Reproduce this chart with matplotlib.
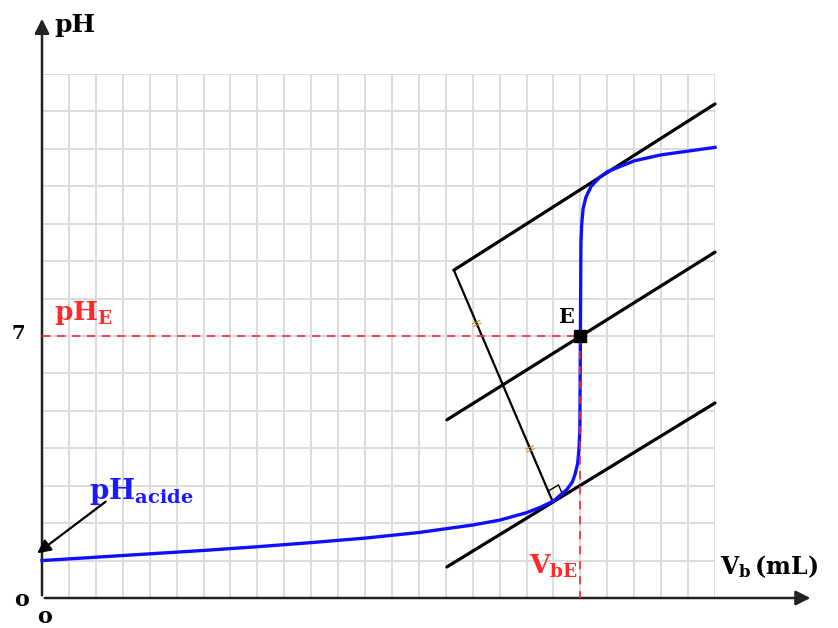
import matplotlib
matplotlib.use('Agg')
from matplotlib import pyplot as plt
import numpy as np

plt.rcParams['font.family'] = ['DejaVu Serif']
plt.rcParams['mathtext.fontset'] = 'dejavuserif'

# titration curve (V_b in mL, pH)
vb = [0, 2, 4, 6, 8, 10, 12, 14, 15, 16, 17, 18, 18.5, 19, 19.5, 19.7, 19.8,
      19.9, 19.95, 19.98, 20.0, 20.02, 20.05, 20.1, 20.2, 20.4, 20.7, 21, 22,
      23, 24, 25]
ph = [1.00, 1.09, 1.18, 1.27, 1.37, 1.48, 1.60, 1.75, 1.85, 1.95, 2.08, 2.28,
      2.42, 2.59, 2.90, 3.10, 3.30, 3.60, 4.00, 4.50, 7.00, 9.50, 10.00, 10.40,
      10.70, 11.00, 11.23, 11.39, 11.68, 11.84, 11.94, 12.04]

# equivalence point
v_eq = 20
ph_eq = 7

# parallel tangents (x pair, y pair)
tan_top_x = [15.3, 25]
tan_top_y = [8.76, 13.2]
tan_mid_x = [15.04, 25]
tan_mid_y = [4.76, 9.24]
tan_bot_x = [15.04, 25]
tan_bot_y = [0.83, 5.21]

# perpendicular between the outer tangents
perp_x = [15.3, 18.98]
perp_y = [8.76, 2.56]

fig = plt.figure(figsize=(8.38, 6.28), dpi=100)
ax = fig.add_axes([42 / 838, 30 / 628, 673 / 838, 524 / 628])
ax.set_xlim(0, 25)
ax.set_ylim(0, 14)
ax.set_xticks(range(26))
ax.set_yticks(range(15))
ax.tick_params(length=0, labelbottom=False, labelleft=False)
ax.grid(color='#dcdcdc', lw=1.4)
for s in ax.spines.values():
    s.set_visible(False)

# tangents and perpendicular
for tx, ty in [(tan_top_x, tan_top_y), (tan_mid_x, tan_mid_y), (tan_bot_x, tan_bot_y)]:
    ax.plot(tx, ty, color='black', lw=2.3, solid_capstyle='round', zorder=4, clip_on=False)
ax.plot(perp_x, perp_y, color='black', lw=1.6, zorder=4)

# right angle mark and equal-length ticks, built in display space
fig.canvas.draw()
to_disp = ax.transData.transform
to_data = ax.transData.inverted().transform
foot = to_disp((perp_x[1], perp_y[1]))
head = to_disp((perp_x[0], perp_y[0]))
u_perp = (head - foot) / np.hypot(*(head - foot))
b0 = to_disp((tan_bot_x[0], tan_bot_y[0]))
b1 = to_disp((tan_bot_x[1], tan_bot_y[1]))
u_line = (b1 - b0) / np.hypot(*(b1 - b0))
sq = np.array([foot + 12 * u_line, foot + 12 * u_line + 12 * u_perp, foot + 12 * u_perp])
sq = to_data(sq)
ax.plot(sq[:, 0], sq[:, 1], color='black', lw=1.0, zorder=4)

n_perp = np.array([-u_perp[1], u_perp[0]])
length = np.hypot(*(head - foot))
for frac in [0.23, 0.77]:
    c = foot + frac * length * u_perp
    for off in [-1.5, 1.5]:
        p = to_data(np.array([c + off * u_perp - 4 * n_perp, c + off * u_perp + 4 * n_perp]))
        ax.plot(p[:, 0], p[:, 1], color='#c98a2e', lw=0.8, zorder=5)

# titration curve
ax.plot(vb, ph, color='#1010ff', lw=2.4, zorder=5, clip_on=False)

# dashed guides to E
ax.plot([0, v_eq], [ph_eq, ph_eq], color='#ff2a2a', lw=1.2, ls=(0, (5, 4)), zorder=6)
ax.plot([v_eq, v_eq], [ph_eq, 0], color='#ff2a2a', lw=1.2, ls=(0, (5, 4)), zorder=6)
ax.plot([v_eq], [ph_eq], marker='s', ms=8, color='black', zorder=7)

# axes with arrows
ax.annotate('', xy=(0, 15.55), xytext=(0, 0), annotation_clip=False,
            arrowprops=dict(arrowstyle='-|>', mutation_scale=22, lw=1.8, color='#222222'))
ax.annotate('', xy=(28.65, 0), xytext=(0, 0), annotation_clip=False,
            arrowprops=dict(arrowstyle='-|>', mutation_scale=22, lw=1.8, color='#222222'))

# pH_acide arrow
ax.annotate('', xy=(-0.26, 1.15), xytext=(2.45, 2.62), annotation_clip=False,
            arrowprops=dict(arrowstyle='-|>', mutation_scale=20, lw=1.6, color='black'))

# labels
ax.text(0.45, 15.3, 'pH', fontsize=18, fontweight='bold', va='center', ha='left',
        clip_on=False)
ax.text(-0.9, 7.05, '7', fontsize=14, fontweight='bold', va='center', ha='center',
        clip_on=False)
ax.text(0.45, 7.62, r'$\mathbf{pH_{E}}$', fontsize=19, color='#ff2a2a', va='center',
        ha='left')
ax.text(19.45, 7.5, 'E', fontsize=15, fontweight='bold', va='center', ha='center')
ax.text(1.75, 2.85, r'$\mathbf{pH_{acide}}$', fontsize=20, color='#1a1aff', va='center',
        ha='left')
ax.text(18.1, 0.85, r'$\mathbf{V_{bE}}$', fontsize=19, color='#ff2a2a', va='center',
        ha='left')
ax.text(25.2, 0.85, r'$\mathbf{V_{b}}\,\mathbf{(mL)}$', fontsize=17, color='black',
        va='center', ha='left', clip_on=False)
ax.text(-0.75, -0.05, 'o', fontsize=16, fontweight='bold', va='center', ha='center',
        clip_on=False)
ax.text(0.1, -0.5, 'o', fontsize=16, fontweight='bold', va='center', ha='center',
        clip_on=False)

fig.savefig('out.png', dpi=100)
